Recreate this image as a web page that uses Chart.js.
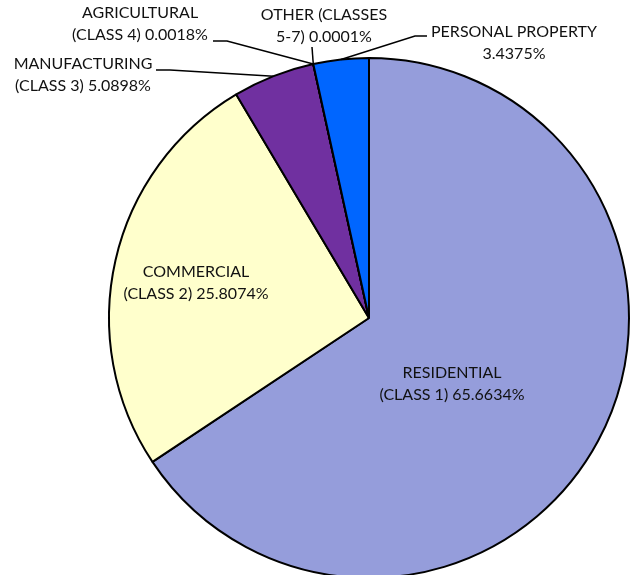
<!DOCTYPE html>
<html>
<head>
<meta charset="utf-8">
<script src="https://cdn.jsdelivr.net/npm/chart.js@4"></script>
<style>
  html, body { margin: 0; padding: 0; background: #fff; overflow: hidden; }
  canvas { display: block; }
</style>
</head>
<body>
<canvas id="pieChart" width="633" height="600"></canvas>
<script>
// Data
const categories = [
  "RESIDENTIAL (CLASS 1)",
  "COMMERCIAL (CLASS 2)",
  "MANUFACTURING (CLASS 3)",
  "AGRICULTURAL (CLASS 4)",
  "OTHER (CLASSES 5-7)",
  "PERSONAL PROPERTY"
];
const shares = [65.6634, 25.8074, 5.0898, 0.0018, 0.0001, 3.4375];
const sliceColors = ["#959DDB", "#FFFFCC", "#7030A0", "#7030A0", "#0066FF", "#0066FF"];

// Label text lines (as printed on the chart)
const labelLines = [
  ["RESIDENTIAL", "(CLASS 1) 65.6634%"],
  ["COMMERCIAL", "(CLASS 2) 25.8074%"],
  ["MANUFACTURING", "(CLASS 3) 5.0898%"],
  ["AGRICULTURAL", "(CLASS 4) 0.0018%"],
  ["OTHER (CLASSES", "5-7) 0.0001%"],
  ["PERSONAL PROPERTY", "3.4375%"]
];

// Label placement: inside labels are offsets from the pie center,
// outside labels get a text center plus a leader line (elbow points)
const labelLayout = [
  { inside: true, dx: 83, dy: 66 },
  { inside: true, dx: -173, dy: -35 },
  { x: 83, y: 64, path: [[156, 70], [170, 70]] },
  { x: 140, y: 13, path: [[213, 41], [227, 41]], edge: "start" },
  { x: 324, y: 15, path: [[312, 47]], edge: "start" },
  { x: 514, y: 32, path: [[427, 36], [415, 36]] }
];

const FONT = "16px Lato";
const LINE_H = 22;

const pieLabels = {
  id: "pieLabels",
  afterDatasetsDraw(chart) {
    const ctx = chart.ctx;
    const arcs = chart.getDatasetMeta(0).data;
    ctx.save();
    ctx.font = FONT;
    ctx.fillStyle = "#111";
    ctx.textAlign = "center";
    ctx.textBaseline = "middle";
    ctx.strokeStyle = "#000";
    ctx.lineWidth = 1.5;

    labelLayout.forEach((lay, i) => {
      const arc = arcs[i];
      const lines = labelLines[i];
      let tx, ty;
      if (lay.inside) {
        tx = arc.x + lay.dx;
        ty = arc.y + lay.dy - LINE_H / 2;
      } else {
        tx = lay.x;
        ty = lay.y;
        const ang = lay.edge === "start" ? arc.startAngle : (arc.startAngle + arc.endAngle) / 2;
        const ex = arc.x + Math.cos(ang) * arc.outerRadius;
        const ey = arc.y + Math.sin(ang) * arc.outerRadius;
        ctx.beginPath();
        ctx.moveTo(lay.path[0][0], lay.path[0][1]);
        for (let k = 1; k < lay.path.length; k++) ctx.lineTo(lay.path[k][0], lay.path[k][1]);
        ctx.lineTo(ex, ey);
        ctx.stroke();
      }
      lines.forEach((t, k) => ctx.fillText(t, tx, ty + k * LINE_H));
    });
    ctx.restore();
  }
};

new Chart(document.getElementById("pieChart").getContext("2d"), {
  type: "pie",
  data: {
    labels: categories,
    datasets: [{
      data: shares,
      backgroundColor: sliceColors,
      borderColor: "#000",
      borderWidth: 2
    }]
  },
  options: {
    responsive: false,
    animation: false,
    radius: 260,
    layout: { padding: { left: 108, right: 3, top: 57, bottom: 21 } },
    plugins: {
      legend: { display: false },
      tooltip: { enabled: false }
    }
  },
  plugins: [pieLabels]
});
</script>
</body>
</html>
